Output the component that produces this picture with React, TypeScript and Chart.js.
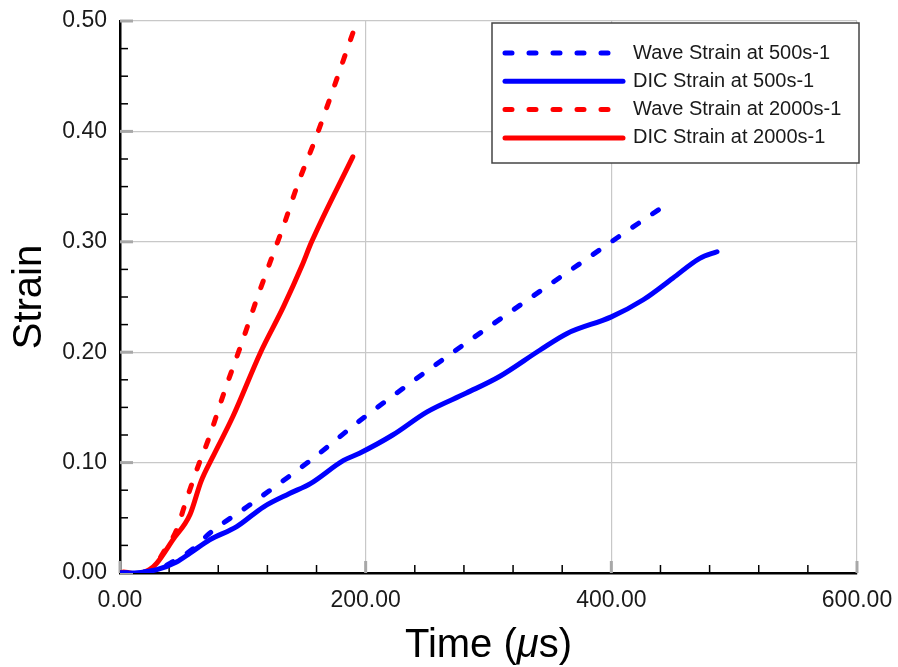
import React, { useEffect, useRef } from "react";
import { Chart, registerables } from "chart.js";

Chart.register(...registerables);

// ---- data ----
const timeWave500 = [0, 20, 30, 41, 60, 73, 106, 155, 200, 400, 449];
const strainWave500 = [0, 0.001, 0.003, 0.009, 0.0224, 0.036, 0.062, 0.102, 0.142, 0.3, 0.337];

const timeDic500 = [0, 10, 20, 30, 46, 57, 73, 95, 117, 138, 155, 182, 195, 222, 250, 282, 309, 342, 364, 400, 426, 450, 472, 486];
const strainDic500 = [0, 0, 0.001, 0.003, 0.01, 0.018, 0.03, 0.042, 0.06, 0.072, 0.081, 0.102, 0.1085, 0.125, 0.146, 0.163, 0.178, 0.202, 0.217, 0.232, 0.2475, 0.267, 0.285, 0.291];

const timeWave2000 = [0, 10, 20, 27, 35, 46, 54, 64, 72, 85.5, 99, 111, 125, 133, 145, 159, 193];
const strainWave2000 = [0, -0.001, 0, 0.004, 0.018, 0.039, 0.066, 0.098, 0.121, 0.166, 0.208, 0.247, 0.29, 0.314, 0.353, 0.393, 0.5];

const timeDic2000 = [0, 3, 8, 14, 20, 24, 30, 43, 57, 66, 75, 92, 114.5, 133, 148, 156, 189.5];
const strainDic2000 = [0, 0.001, 0, -0.001, 0.001, 0.003, 0.009, 0.03, 0.053, 0.083, 0.104, 0.142, 0.2, 0.241, 0.278, 0.3, 0.377];

const seriesLabels = [
  "Wave Strain at 500s-1",
  "DIC Strain at 500s-1",
  "Wave Strain at 2000s-1",
  "DIC Strain at 2000s-1",
];

const xMin = 0, xMax = 600, xStep = 40, xMajor = 200;
const yMin = 0, yMax = 0.5, yStep = 0.025, yMajor = 0.1;

const FONT = "'Liberation Sans', Arial, Helvetica, sans-serif";

const zip = (xs: number[], ys: number[]) => xs.map((x, i) => ({ x, y: ys[i] }));
const isMajor = (v: number, m: number) => Math.abs(v / m - Math.round(v / m)) < 1e-6;

const DASH = [7, 17];
const LW = 5;

const minorTicksPlugin = {
  id: "minorTicks",
  beforeDatasetsDraw(chart: any) {
    const ctx = chart.ctx;
    const xs = chart.scales.x;
    const ys = chart.scales.y;
    const area = chart.chartArea;
    ctx.save();
    xs.ticks.forEach((t: any) => {
      const px = xs.getPixelForValue(t.value);
      const major = isMajor(t.value, xMajor);
      ctx.beginPath();
      ctx.strokeStyle = major ? "#a8a8a8" : "#000";
      ctx.lineWidth = major ? 3 : 1.5;
      ctx.moveTo(px, area.bottom);
      ctx.lineTo(px, area.bottom - (major ? 12 : 8));
      ctx.stroke();
    });
    ys.ticks.forEach((t: any) => {
      const py = ys.getPixelForValue(t.value);
      const major = isMajor(t.value, yMajor);
      ctx.beginPath();
      ctx.strokeStyle = major ? "#a8a8a8" : "#000";
      ctx.lineWidth = major ? 3 : 1.5;
      ctx.moveTo(area.left, py);
      ctx.lineTo(area.left + (major ? 13 : 8), py);
      ctx.stroke();
    });
    ctx.restore();
  },
};

const legendPlugin = {
  id: "boxLegend",
  afterDatasetsDraw(chart: any) {
    const ctx = chart.ctx;
    const area = chart.chartArea;
    const w = 367, h = 140;
    const bx = area.right - w + 2;
    const by = area.top + 2;
    ctx.save();
    ctx.fillStyle = "#fff";
    ctx.fillRect(bx, by, w, h);
    ctx.strokeStyle = "#444";
    ctx.lineWidth = 1.5;
    ctx.strokeRect(bx, by, w, h);
    chart.data.datasets.forEach((ds: any, i: number) => {
      const cy = by + 30 + i * 28.3;
      ctx.beginPath();
      ctx.strokeStyle = ds.borderColor;
      ctx.lineWidth = ds.borderWidth;
      ctx.lineCap = "round";
      ctx.setLineDash(ds.borderDash || []);
      ctx.moveTo(bx + 13, cy);
      ctx.lineTo(bx + 131, cy);
      ctx.stroke();
      ctx.setLineDash([]);
      ctx.fillStyle = "#1a1a1a";
      ctx.font = `20px ${FONT}`;
      ctx.textBaseline = "middle";
      ctx.textAlign = "left";
      ctx.fillText(ds.label, bx + 141, cy);
    });
    ctx.restore();
  },
};

const xTitlePlugin = {
  id: "xTitle",
  afterDraw(chart: any) {
    const ctx = chart.ctx;
    const area = chart.chartArea;
    const parts = [
      { t: "Time (", f: `40px ${FONT}` },
      { t: "\u03bc", f: `italic 40px ${FONT}` },
      { t: "s)", f: `40px ${FONT}` },
    ];
    ctx.save();
    let total = 0;
    parts.forEach((p) => {
      ctx.font = p.f;
      total += ctx.measureText(p.t).width;
    });
    let x = (area.left + area.right) / 2 - total / 2;
    const baseline = area.bottom + 84;
    ctx.fillStyle = "#000";
    ctx.textBaseline = "alphabetic";
    ctx.textAlign = "left";
    parts.forEach((p) => {
      ctx.font = p.f;
      ctx.fillText(p.t, x, baseline);
      x += ctx.measureText(p.t).width;
    });
    ctx.restore();
  },
};

export default function App() {
  const ref = useRef<HTMLCanvasElement | null>(null);
  useEffect(() => {
    if (!ref.current) return;
    const mk = (label: string, xs: number[], ys: number[], color: string, dashed: boolean) => ({
      label,
      data: zip(xs, ys),
      borderColor: color,
      borderWidth: LW,
      borderDash: dashed ? DASH : [],
      borderCapStyle: "round",
      borderJoinStyle: "round",
      pointRadius: 0,
      fill: false,
      cubicInterpolationMode: "monotone",
    });
    const chart = new Chart(ref.current, {
      type: "line",
      data: {
        datasets: [
          mk(seriesLabels[0], timeWave500, strainWave500, "#0000ff", true),
          mk(seriesLabels[1], timeDic500, strainDic500, "#0000ff", false),
          mk(seriesLabels[2], timeWave2000, strainWave2000, "#ff0000", true),
          mk(seriesLabels[3], timeDic2000, strainDic2000, "#ff0000", false),
        ],
      },
      options: {
        animation: false,
        responsive: true,
        maintainAspectRatio: false,
        layout: { padding: { left: 0, top: 21, right: 41, bottom: 0 } },
        plugins: {
          legend: { display: false },
          tooltip: { enabled: false },
        },
        scales: {
          x: {
            type: "linear",
            min: xMin,
            max: xMax,
            afterFit: (s: any) => {
              s.height = 94;
              s.paddingLeft = 0;
              s.paddingRight = 0;
            },
            ticks: {
              stepSize: xStep,
              autoSkip: false,
              maxRotation: 0,
              padding: 14,
              color: "#1a1a1a",
              font: { family: FONT, size: 23 },
              callback: (v: any) => (isMajor(Number(v), xMajor) ? Number(v).toFixed(2) : ""),
            },
            grid: {
              drawTicks: false,
              lineWidth: 1.2,
              color: (c: any) => (c.tick && isMajor(c.tick.value, xMajor) ? "#c8c8c8" : "rgba(0,0,0,0)"),
            },
            border: { display: true, color: "#000", width: 2.5 },
          },
          y: {
            type: "linear",
            min: yMin,
            max: yMax,
            afterFit: (s: any) => {
              s.width = 120;
              s.paddingTop = 0;
              s.paddingBottom = 0;
            },
            ticks: {
              stepSize: yStep,
              autoSkip: false,
              padding: 13,
              color: "#1a1a1a",
              font: { family: FONT, size: 23 },
              callback: (v: any) => (isMajor(Number(v), yMajor) ? Number(v).toFixed(2) : ""),
            },
            grid: {
              drawTicks: false,
              lineWidth: 1.2,
              color: (c: any) => (c.tick && isMajor(c.tick.value, yMajor) ? "#c8c8c8" : "rgba(0,0,0,0)"),
            },
            border: { display: true, color: "#000", width: 2.5 },
            title: {
              display: true,
              text: "Strain",
              color: "#000",
              font: { family: FONT, size: 40 },
              padding: { top: 6, bottom: 0 },
            },
          },
        },
      },
      plugins: [minorTicksPlugin, legendPlugin, xTitlePlugin],
    } as any);
    return () => chart.destroy();
  }, []);

  return (
    <div style={{ position: "fixed", left: 0, top: 0, width: 898, height: 667, background: "#fff" }}>
      <canvas ref={ref} />
    </div>
  );
}
